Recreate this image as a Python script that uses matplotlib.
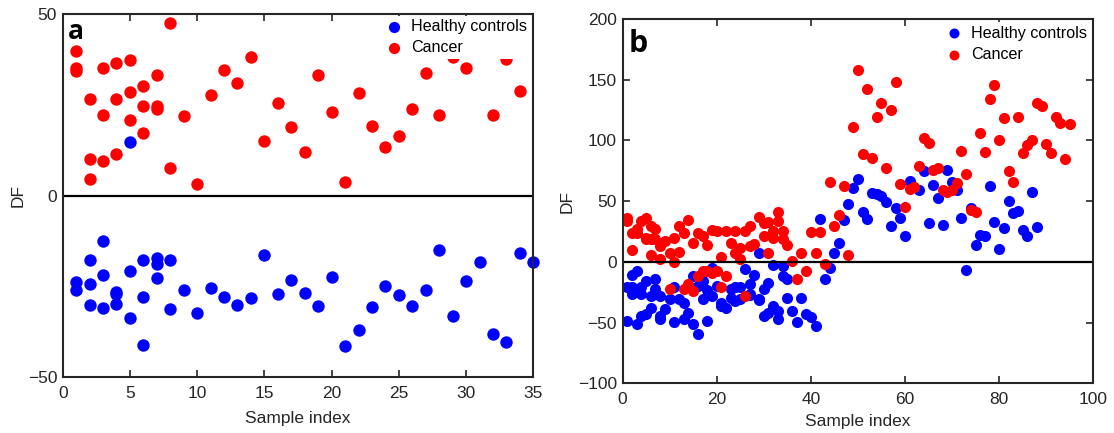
import matplotlib
matplotlib.use("Agg")
import matplotlib.pyplot as plt
import numpy as np

plt.rcParams['font.family'] = ['Liberation Sans', 'DejaVu Sans']

# ---------------- panel a ----------------
a_healthy_x = [1, 1, 2, 2, 2, 3, 3, 3, 4, 4, 4, 5, 5, 5, 6, 6, 6, 7, 7, 7, 8, 8,
               9, 10, 11, 12, 13, 14, 15, 16, 17, 18, 19, 20, 21, 22, 23, 24, 25,
               26, 27, 28, 29, 30, 31, 32, 33, 34, 35]
a_healthy_y = [-23.8, -25.9, -17.6, -24.2, -30.2, -12.4, -21.9, -30.9, -26.5, -27.0,
               -29.8, -20.8, -33.8, 14.9, -17.8, -27.9, -41.0, -17.1, -18.8, -22.7,
               -17.6, -31.1, -25.9, -32.2, -25.5, -27.9, -30.2, -28.3, -16.2, -27.0,
               -23.1, -26.7, -30.5, -22.5, -41.5, -37.0, -30.7, -25.0, -27.4, -30.5,
               -26.0, -14.9, -33.2, -23.4, -18.2, -38.1, -40.4, -15.8, -18.2]

a_cancer_x = [1, 1, 1, 2, 2, 2, 3, 3, 3, 4, 4, 4, 5, 5, 5, 6, 6, 6, 7, 7, 7, 8, 8,
              9, 10, 11, 12, 13, 14, 15, 16, 17, 18, 19, 20, 21, 22, 23, 24, 25,
              26, 27, 28, 29, 30, 32, 33, 34]
a_cancer_y = [39.7, 35.0, 34.3, 26.7, 10.2, 4.6, 35.2, 22.2, 9.5, 36.5, 26.7, 11.6,
              37.4, 28.6, 20.9, 30.3, 24.7, 17.3, 33.2, 24.6, 23.9, 47.5, 7.6,
              21.8, 3.2, 27.6, 34.7, 31.1, 38.3, 15.0, 25.6, 18.9, 12.1, 33.2, 23.1,
              3.8, 28.2, 19.1, 13.3, 16.3, 23.8, 33.7, 22.2, 38.3, 35.1, 22.2, 37.6,
              28.8]

# ---------------- panel b ----------------
b_healthy_x = [1, 1, 2, 2, 2, 3, 3, 4, 4, 4, 5, 5, 6, 6, 7, 7, 8, 8, 8, 9, 10, 11, 11,
               12, 13, 13, 14, 15, 15, 16, 16, 17, 17, 18, 18, 19, 19, 20, 21, 21, 22,
               23, 23, 24, 24, 25, 25, 26, 27, 27, 27, 28, 29, 29, 29, 30, 30, 31, 31,
               32, 32, 33, 33, 34, 34, 35, 35, 36, 37, 38, 39, 40, 41, 42, 43, 44, 45,
               46, 47, 48, 49, 50, 51, 52, 53, 54, 55, 56, 57, 58, 59, 60, 61, 63, 64,
               65, 66, 67, 68, 69, 70, 71, 72, 73, 74, 75, 76, 77, 78, 79, 80, 81, 82,
               83, 84, 85, 86, 87, 88]
b_healthy_y = [-21.1, -48.6, -21.1, -11.0, -26.6, -7.4, -51.3, -21.1, -44.4, -26.6,
               -15.6, -43.1, -37.6, -28.0, -14.3, -22.5, -44.4, -28.0, -47.2, -39.0,
               -30.7, -49.9, -21.1, -30.7, -33.5, -47.2, -41.7, -11.5, -51.3, -59.5,
               -19.8, -30.7, -15.6, -48.6, -23.0, -4.7, -28.0, -19.8, -33.5, -36.2,
               -37.6, -29.4, -22.0, -32.0, -21.0, -21.1, -30.7, -6.0, -26.6, -18.4,
               -27.4, -11.0, 7.7, -30.7, -31.3, -22.5, -44.4, -17.0, -41.7, -2.7,
               -36.2, -47.2, -40.3, -3.3, -11.5, -14.3, -29.4, -40.3, -49.9, -29.4,
               -43.1, -45.8, -52.7, 35.1, -14.3, -4.7, 7.7, 15.9, 34.6, 47.5, 60.7,
               68.1, 40.8, 35.7, 56.4, 55.7, 54.3, 49.7, 29.9, 44.2, 35.9, 20.9, 66.7,
               58.8, 74.6, 32.4, 63.2, 53.0, 30.3, 75.6, 66.0, 59.1, 36.3, -6.3, 44.3,
               13.7, 22.2, 21.4, 62.6, 33.0, 10.4, 28.3, 50.0, 40.6, 42.0, 26.3, 20.9,
               57.3, 29.0]

b_cancer_x = [1, 1, 2, 2, 3, 3, 4, 5, 5, 5, 6, 6, 6, 7, 7, 8, 8, 9, 10, 10, 11, 11,
              12, 12, 13, 13, 14, 14, 15, 15, 16, 16, 17, 17, 18, 18, 19, 19, 20, 20,
              21, 21, 22, 22, 23, 24, 24, 25, 25, 26, 26, 27, 27, 28, 29, 30, 30, 31,
              31, 32, 32, 33, 33, 34, 34, 35, 36, 37, 38, 39, 40, 41, 42, 43, 44, 45,
              46, 47, 48, 49, 50, 51, 52, 53, 54, 55, 56, 57, 58, 59, 60, 61, 62, 63,
              64, 65, 66, 67, 68, 69, 70, 71, 72, 73, 74, 75, 76, 77, 78, 79, 80, 81,
              82, 83, 84, 85, 86, 87, 88, 89, 90, 91, 92, 93, 94, 95]
b_cancer_y = [36.0, 34.0, 24.0, 10.0, 27.0, 24.0, 34.0, 36.5, 20.0, 18.6, 29.6, 18.7,
              5.5, 27.0, 18.7, 13.2, 2.2, 17.3, 7.7, -22.5, -0.5, 20.0, 29.6, 8.2,
              24.1, -22.5, 34.6, -18.4, 15.4, -23.9, 24.1, -11.5, 21.4, -7.4, 13.7,
              -7.4, 26.3, -8.8, 25.5, -7.4, 4.4, -21.1, 25.5, -11.5, 15.9, 25.5, 7.7,
              11.8, 2.2, 25.5, -28.5, 13.2, 29.6, 14.5, 37.3, 32.4, 21.4, 7.7, 32.9,
              25.5, 19.6, 41.2, 33.7, 25.5, 18.7, 14.0, 0.8, -14.3, 7.7, -7.4, 24.7,
              7.3, 24.7, -1.5, 66.0, 29.5, 38.4, 62.3, 5.8, 111.0, 158.3, 88.9, 142.6,
              85.2, 119.6, 131.1, 77.5, 125.2, 148.5, 64.2, 45.5, 60.0, 62.0, 79.3,
              101.8, 98.2, 75.6, 77.7, 59.1, 57.7, 59.0, 64.9, 91.0, 72.4, 42.8, 41.2,
              106.2, 90.8, 134.2, 145.7, 100.4, 118.3, 75.2, 65.8, 119.5, 90.0, 96.1,
              100.2, 130.8, 128.4, 97.3, 90.0, 118.9, 114.7, 84.4, 113.2]

BLUE = '#0000FF'
RED = '#FF0000'
DARK = '#262626'

W, H = 1114, 433
fig = plt.figure(figsize=(W / 100, H / 100), dpi=100)


def frac(x0, y0, x1, y1):
    return [x0 / W, 1 - y1 / H, (x1 - x0) / W, (y1 - y0) / H]


ax_a = fig.add_axes(frac(62.7, 14.0, 533.3, 377.3))
ax_b = fig.add_axes(frac(622.5, 19.0, 1093.3, 383.3))


def style(ax):
    for s in ax.spines.values():
        s.set_linewidth(1.5)
        s.set_color(DARK)
        s.set_zorder(20)
    ax.tick_params(direction='in', length=5, width=1.2, colors=DARK,
                   labelsize=12.5, top=True, right=True)
    ax.tick_params(axis='x', pad=6)
    ax.tick_params(axis='y', pad=4)


def legend(ax, anchor):
    leg = ax.legend(loc='upper right', bbox_to_anchor=anchor, fontsize=11.6,
                    frameon=True, borderaxespad=0.0, borderpad=0.2,
                    handletextpad=0.65, labelspacing=0.38, handlelength=0.8,
                    markerscale=0.9)
    leg.get_frame().set_edgecolor('none')
    leg.get_frame().set_facecolor('white')
    leg.get_frame().set_alpha(1)
    leg.set_zorder(10)


# panel a
ax_a.scatter(a_healthy_x, a_healthy_y, s=80, color=BLUE, linewidths=0,
             label='Healthy controls', zorder=3, clip_on=False)
ax_a.scatter(a_cancer_x, a_cancer_y, s=80, color=RED, linewidths=0,
             label='Cancer', zorder=3, clip_on=False)
ax_a.axhline(0, color='black', lw=1.6, zorder=4)
ax_a.set_xlim(0, 35)
ax_a.set_ylim(-50, 50)
ax_a.set_xticks(np.arange(0, 36, 5))
ax_a.set_yticks([-50, 0, 50])
style(ax_a)
ax_a.set_xlabel('Sample index', fontsize=12.5, color=DARK)
ax_a.set_ylabel('DF', fontsize=12.5, color=DARK)
ax_a.xaxis.set_label_coords(0.5, -0.092)
ax_a.yaxis.set_label_coords(-0.079, 0.5)
legend(ax_a, (0.993, 0.9945))
fig.text(67.7 / W, 1 - 39.3 / H, 'a', fontsize=19, fontweight='bold',
         family='Open Sans', color='black', va='baseline', ha='left')

# panel b
ax_b.scatter(b_healthy_x, b_healthy_y, s=64, color=BLUE, linewidths=0,
             label='Healthy controls', zorder=3, clip_on=False)
ax_b.scatter(b_cancer_x, b_cancer_y, s=64, color=RED, linewidths=0,
             label='Cancer', zorder=3, clip_on=False)
ax_b.axhline(0, color='black', lw=1.6, zorder=4)
ax_b.set_xlim(0, 100)
ax_b.set_ylim(-100, 200)
ax_b.set_xticks(np.arange(0, 101, 20))
ax_b.set_yticks(np.arange(-100, 201, 50))
style(ax_b)
ax_b.set_xlabel('Sample index', fontsize=12.5, color=DARK)
ax_b.set_ylabel('DF', fontsize=12.5, color=DARK)
ax_b.xaxis.set_label_coords(0.5, -0.085)
ax_b.yaxis.set_label_coords(-0.101, 0.5)
legend(ax_b, (0.993, 0.9905))
fig.text(628.3 / W, 1 - 51.7 / H, 'b', fontsize=22, fontweight='bold',
         family='Open Sans', color='black', va='baseline', ha='left')

fig.savefig('out.png', dpi=100)
